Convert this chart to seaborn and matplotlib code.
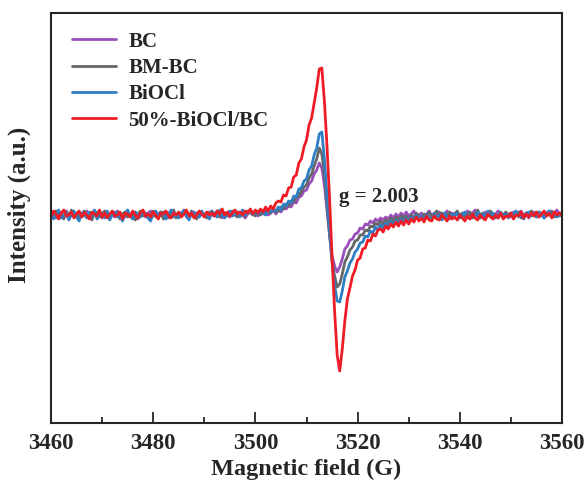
import numpy as np
import pandas as pd
import seaborn as sns
import matplotlib.pyplot as plt

# EPR spectra, intensity in arbitrary units
field = np.linspace(3460, 3560, 201)

bc = [
    2, 0, -3, 3, 1, -2, 4, 0, -1,
    2, -1, 3, -2, 0, 4, -3, 1, 2, -2,
    1, -3, 2, 3, -1, 0, -2, 4, 1, -1,
    -2, 3, 1, -1, 2, -4, 0, 3, -2, 2,
    4, -1, 1, -2, 3, 0, 2, -3, 1, 3,
    -1, 2, 0, 5, -2, 1, -1, 3, 0, -2,
    2, 1, -2, 3, 0, -1, 4, 1, -3, 2,
    0, -2, 3, 1, -1, 2, 0, -3, 1, 3,
    0, 2, -1, 3, 1, 4, 0, 2, 5, 1,
    5, 3, 7, 6, 9, 8, 13, 12, 18, 19,
    24, 25, 31, 34, 41, 45, 52, 47, 30, 5,
    -19, -41, -51, -57, -52, -44, -34, -31, -25, -24,
    -19, -18, -13, -14, -9, -10, -6, -8, -4, -6,
    -3, -5, -2, -4, 0, -3, 1, -2, 2, -1,
    3, -1, 1, 4, -2, 0, 2, -3, 1, 4,
    -1, 2, 0, 3, -2, 1, 4, -1, 2, 0,
    3, -2, 1, 0, 4, -1, 2, 5, -2, 1,
    0, 3, -1, 2, -3, 1, 4, 0, -2, 2,
    1, -2, 3, 0, 2, 4, -1, 1, -3, 2,
    3, 0, -2, 2, 1, -1, 4, 0, 2, 5,
    1, 2,
]

bm_bc = [
    -3, 2, 4, -1, 0, -4, 3, -2, 5,
    -1, 2, -3, 0, 4, -2, 1, -5, 2, 3,
    -2, 1, 4, -1, -3, 2, 0, 3, -4, 1,
    3, -2, 0, 2, -5, 1, 4, -1, 2, -3,
    0, 4, -2, 1, 3, -4, -1, 2, 0, 5,
    -3, 1, -1, 3, 0, -2, 4, 1, -4, 2,
    3, 0, -3, 2, 4, -1, 1, -2, 3, 0,
    -1, 2, 4, 0, -2, 3, 1, -1, 4, 2,
    3, -1, 4, 0, 3, 1, 5, 2, 6, 3,
    4, 8, 6, 11, 9, 14, 13, 18, 19, 24,
    28, 30, 37, 41, 49, 56, 67, 61, 40, 10,
    -19, -46, -61, -72, -69, -59, -47, -42, -35, -32,
    -26, -25, -20, -20, -15, -16, -11, -12, -8, -10,
    -6, -9, -5, -8, -3, -7, -2, -6, -1, -4,
    -1, -5, 0, -3, 2, -2, -4, 1, -1, 3,
    -2, 1, 4, -1, 2, -3, 0, 3, -2, 1,
    4, -1, 2, -2, 0, 3, -3, 1, 5, -1,
    2, -2, 1, 4, -1, 0, -3, 2, 0, 3,
    -1, 2, -2, 1, 3, -3, 0, 2, -1, 4,
    0, -2, 3, 1, -3, 2, 0, 4, -2, 1,
    -1, 2,
]

biocl = [
    3, -4, 1, 5, -3, 0, 2, -5, 1,
    4, -2, -6, 2, 1, -3, 3, -1, 5, -4,
    0, 2, -3, 4, -5, 1, 3, -2, 0, -6,
    2, 5, -1, -4, 3, 0, -2, 4, 1, -3,
    -6, 2, 4, -1, 0, 3, -4, 1, 5, -2,
    1, -3, 2, 4, -1, -5, 3, 0, 2, -2,
    4, -1, 1, -4, 3, 2, -2, 5, 0, -3,
    2, 4, -1, 1, 3, -2, 5, 0, 2, 4,
    0, 4, 1, 5, 2, 0, 6, 3, 5, 4,
    8, 5, 11, 9, 14, 12, 19, 18, 26, 27,
    34, 36, 45, 49, 60, 67, 81, 83, 56, 20,
    -14, -46, -70, -86, -87, -76, -62, -56, -48, -44,
    -37, -34, -28, -27, -21, -22, -16, -18, -12, -15,
    -10, -13, -8, -11, -6, -10, -5, -9, -4, -7,
    -3, -7, -2, -5, 0, -4, -1, -5, 1, -3,
    -4, 1, -3, 0, -5, 2, -2, -4, 1, -1,
    2, -3, 0, 3, -2, -4, 1, -1, 3, -3,
    1, -2, 4, -1, 2, -3, 0, 3, -2, 1,
    -3, 2, 0, 4, -2, 1, -4, 2, 3, -1,
    1, -2, 3, 0, -3, 2, 4, -1, 1, -2,
    0, 3,
]

biocl_bc = [
    -2, 4, 1, -4, 2, 5, -1, 0, 3,
    -3, 1, 4, -2, 2, 0, -4, 3, 1, -1,
    5, -2, 2, -3, 1, 4, -1, 0, 3, -4,
    2, 1, -2, 4, 0, -3, 2, 5, -1, 1,
    -2, 3, 0, -4, 2, 1, 4, -1, -3, 2,
    0, 3, -2, 1, 5, -1, 2, -3, 0, 4,
    1, -2, 3, 0, 2, -1, 4, 1, 6, 0,
    3, -1, 2, 5, 1, 3, 0, 4, 2, 6,
    1, 5, 2, 6, 3, 8, 4, 9, 6, 12,
    14, 13, 20, 19, 27, 28, 38, 40, 52, 56,
    68, 75, 90, 97, 112, 127, 146, 147, 114, 70,
    18, -42, -96, -140, -156, -134, -106, -84, -73, -61,
    -55, -45, -43, -34, -33, -25, -26, -19, -21, -15,
    -14, -17, -11, -14, -9, -12, -7, -11, -6, -10,
    -5, -9, -4, -7, -2, -6, -3, -7, -1, -5,
    -6, -1, -4, -5, 0, -3, -6, -1, -4, -2,
    -5, 0, -3, -6, -1, -4, 1, -3, -5, 0,
    -3, -5, 1, -2, -4, 0, -3, 2, -4, -1,
    -2, 2, -4, 0, -1, 3, -3, 1, -2, 2,
    -1, 3, -2, 1, 4, -1, 2, -3, 3, 0,
    2, -1,
]

names = ["BC", "BM-BC", "BiOCl", "50%-BiOCl/BC"]
colors = ["#9b4fb8", "#666666", "#2f7fc4", "#ee1c25"]

wide = pd.DataFrame({"field": field, "BC": bc, "BM-BC": bm_bc,
                     "BiOCl": biocl, "50%-BiOCl/BC": biocl_bc})
df = wide.melt(id_vars="field", var_name="sample", value_name="intensity")

sns.set_style("ticks")
plt.rcParams["font.family"] = ["Liberation Serif", "DejaVu Serif"]
plt.rcParams["font.weight"] = "bold"

fig = plt.figure(figsize=(5.86, 4.84), dpi=100)
ax = fig.add_axes([51 / 586, 61 / 484, 511 / 586, 410 / 484])

sns.lineplot(data=df, x="field", y="intensity", hue="sample", hue_order=names,
             palette=colors, estimator=None, sort=False, linewidth=2.0, ax=ax)

ax.set_xlim(3460, 3560)
ax.set_ylim(-208, 202)
ax.set_xticks(np.arange(3460, 3561, 20))
ax.set_xticks(np.arange(3470, 3560, 20), minor=True)
ax.set_yticks([])
ax.tick_params(axis="x", which="major", direction="in", length=8, width=1.3,
               labelsize=16.5, pad=7)
ax.tick_params(axis="x", which="minor", direction="in", length=4.5, width=1.3)
for lab in ax.get_xticklabels():
    lab.set_fontweight("bold")
for sp in ax.spines.values():
    sp.set_linewidth(1.5)
    sp.set_visible(True)

ax.set_xlabel("Magnetic field (G)", fontsize=17.5, fontweight="bold", labelpad=4)
ax.set_ylabel("Intensity (a.u.)", fontsize=18, fontweight="bold")
ax.yaxis.set_label_coords(-0.04, 0.532)

ax.text(3516.4, 18, "g = 2.003", fontsize=15, fontweight="bold", va="center")

ax.legend(loc="upper left", bbox_to_anchor=(0.005, 1.0), frameon=False,
          prop={"size": 15, "weight": "bold"}, handlelength=2.1,
          handletextpad=0.6, labelspacing=0.3)

fig.savefig("out.png", dpi=100)
